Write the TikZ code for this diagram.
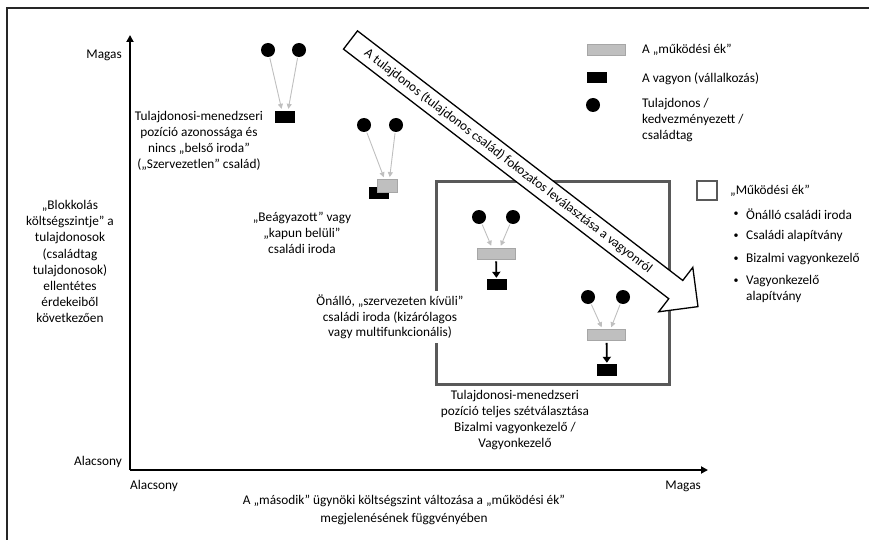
\documentclass[tikz,border=0pt]{standalone}
\usepackage{fontspec}
\setmainfont{Carlito}
\usetikzlibrary{arrows.meta,calc}
\definecolor{wedgefill}{HTML}{BFBFBF}
\definecolor{wedgedraw}{HTML}{A6A6A6}
\definecolor{boxcol}{HTML}{595959}
\definecolor{garrowcol}{HTML}{BFBFBF}
\begin{document}
\begin{tikzpicture}[x=1pt,y=-1pt,
  every node/.style={font=\fontsize{13.3}{15.8}\selectfont, inner sep=0pt},
  owner/.style={circle, fill=black, minimum size=14pt, inner sep=0pt},
  asset/.style={rectangle, fill=black, minimum width=20pt, minimum height=12pt, inner sep=0pt},
  wedge/.style={rectangle, fill=wedgefill, draw=wedgedraw, line width=0.8pt, minimum width=38pt, minimum height=11pt, inner sep=0pt},
  garrow/.style={draw=garrowcol, line width=0.9pt, shorten <=1pt, shorten >=2pt, -{Triangle[length=5pt,width=5pt]}},
  darrow/.style={draw=black, line width=1.8pt, shorten >=1pt, shorten <=2pt, -{Triangle[length=6pt,width=8pt]}},
  axisline/.style={line width=2.2pt, -{Triangle[length=7pt,width=7pt]}},
  lbl/.style={align=center},
  opbox/.style={draw=boxcol, line width=2.8pt}]
\useasboundingbox (0,0) rectangle (869,540);
% frame
\draw[line width=1.2pt, black!85] (7,540) -- (7,8) -- (869,8);
% axes
\coordinate (O) at (130,470);
\coordinate (ytip) at (130,35);
\coordinate (xtip) at (708,470);
\draw[axisline] (O) -- (ytip);
\draw[axisline] (O) -- (xtip);
\node[anchor=east] (ymag) at (122,55) {Magas};
\node[anchor=east] (ylow) at (122,462) {Alacsony};
\node[anchor=west] (xlow) at (130,486) {Alacsony};
\node[anchor=east] (xmag) at (701,486) {Magas};
\node[lbl, font=\fontsize{13.3}{17.5}\selectfont] (xcap) at (404,510) {A „második” ügynöki költségszint változása a „működési ék”\\megjelenésének függvényében};
\node[lbl, font=\fontsize{13.3}{16.1}\selectfont] (ycap) at (70,261.5) {„Blokkolás\\költségszintje” a\\tulajdonosok\\(családtag\\tulajdonosok)\\ellentétes\\érdekeiből\\következően};

% operating wedge box
\node[opbox, minimum width=233pt, minimum height=203pt, anchor=north west] (opb) at (435,180) {};

% big arrow
\begin{scope}[shift={(350.5,40)}, rotate=-37.5]
\draw[fill=white, line width=1.3pt, line join=miter] (0,-11.5) -- (410,-11.5) -- (410,-28) -- (438,0) -- (410,28) -- (410,11.5) -- (0,11.5) -- cycle;
\node[rotate=-37.5] (bigtxt) at (199,0) {A tulajdonos (tulajdonos család) fokozatos leválasztása a vagyonról};
\end{scope}

% group 1: unorganized family
\node[owner] (d11) at (268,50) {};
\node[owner] (d12) at (299,50) {};
\node[asset] (a1) at (285,117) {};
\draw[garrow] (d11) -- ([xshift=-3pt]a1.north);
\draw[garrow] (d12) -- ([xshift=3pt]a1.north);
\node[lbl] (t1) at (199,141) {Tulajdonosi-menedzseri\\pozíció azonossága és\\nincs „belső iroda”\\(„Szervezetlen” család)};

% group 2: embedded family office
\node[owner] (d21) at (364,125) {};
\node[owner] (d22) at (396,125) {};
\node[asset] (a2) at (378.5,193) {};
\node[wedge, minimum width=20pt, minimum height=13pt] (w2) at (387.5,186) {};
\draw[garrow] (d21) -- ([xshift=-3pt]w2.north);
\draw[garrow] (d22) -- ([xshift=2pt]w2.north);
\node[lbl] (t2) at (302,233) {„Beágyazott” vagy\\„kapun belüli”\\családi iroda};

% group 3: standalone family office
\node[owner] (d31) at (479,217) {};
\node[owner] (d32) at (513,217) {};
\node[wedge] (w3) at (496,253.5) {};
\node[asset, minimum height=11pt] (a3) at (496.5,284.5) {};
\draw[garrow] (d31) -- ([xshift=-4pt]w3.north);
\draw[garrow] (d32) -- ([xshift=4pt]w3.north);
\draw[darrow] (w3) -- (a3);
\node[lbl, fill=white, inner xsep=2pt, inner ysep=4pt] (t3) at (390,317) {Önálló, „szervezeten kívüli”\\családi iroda (kizárólagos\\vagy multifunkcionális)};

% group 4: full separation
\node[owner] (d41) at (588,297) {};
\node[owner] (d42) at (623,297) {};
\node[wedge] (w4) at (606.5,335) {};
\node[asset] (a4) at (607,370) {};
\draw[garrow] (d41) -- ([xshift=-4pt]w4.north);
\draw[garrow] (d42) -- ([xshift=4pt]w4.north);
\draw[darrow] (w4) -- (a4);
\node[lbl] (t4) at (515,420) {Tulajdonosi-menedzseri\\pozíció teljes szétválasztása\\Bizalmi vagyonkezelő /\\Vagyonkezelő};

% legend
\node[wedge] (lw) at (606,50) {};
\node[anchor=west] (lwt) at (642,50) {A „működési ék”};
\node[asset, minimum height=11pt] (la) at (597,78) {};
\node[anchor=west] (lat) at (642,79) {A vagyon (vállalkozás)};
\node[owner] (lo) at (593,105) {};
\node[anchor=west, align=left] (lot) at (642,120) {Tulajdonos /\\kedvezményezett /\\családtag};

\node[draw=boxcol, line width=2.8pt, minimum width=20pt, minimum height=19pt] (lsq) at (707,190.5) {};
\node[anchor=west] (lsqt) at (730,191) {„Működési ék”};
\node[font=\fontsize{10}{12}\selectfont] (b1) at (736,214) {•};
\node[anchor=west] (l1) at (746,214) {Önálló családi iroda};
\node[font=\fontsize{10}{12}\selectfont] (b2) at (736,236) {•};
\node[anchor=west] (l2) at (746,236) {Családi alapítvány};
\node[font=\fontsize{10}{12}\selectfont] (b3) at (736,259) {•};
\node[anchor=west] (l3) at (746,259) {Bizalmi vagyonkezelő};
\node[font=\fontsize{10}{12}\selectfont] (b4) at (736,281) {•};
\node[anchor=west, align=left] (l4) at (746,289) {Vagyonkezelő\\alapítvány};
\end{tikzpicture}
\end{document}
